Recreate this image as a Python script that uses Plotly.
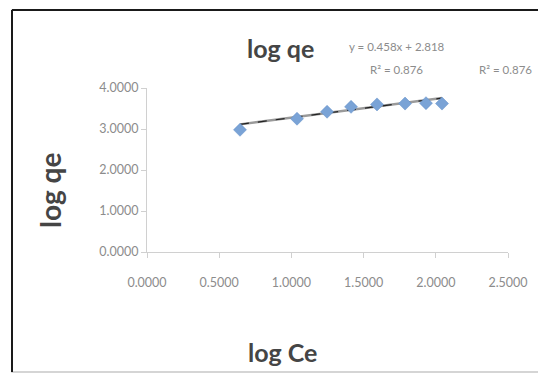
import plotly.graph_objects as go
import numpy as np

# ---- data ----
log_ce = [0.644, 1.039, 1.247, 1.413, 1.593, 1.787, 1.932, 2.043]
log_qe = [2.98, 3.25, 3.42, 3.54, 3.60, 3.62, 3.63, 3.62]
slope = 0.458
intercept = 2.818
r_squared = 0.876
x_ticks = [0.0, 0.5, 1.0, 1.5, 2.0, 2.5]
y_ticks = [0.0, 1.0, 2.0, 3.0, 4.0]

# page body has an 8px margin; figure drawn at (8, 8)
OFF = 8
W, H = 538, 368
ML, MR, MT, MB = 139, 38, 80, 124
PW, PH = W - ML - MR, H - MT - MB


def px(sx):
    return (sx - OFF - ML) / PW


def py(sy):
    return (H - MB - (sy - OFF)) / PH


fit_x = np.array([min(log_ce), max(log_ce)])
fit_y = slope * fit_x + intercept

fig = go.Figure()
fig.add_trace(go.Scatter(x=fit_x, y=fit_y, mode="lines",
                         line=dict(color="#9a9a9a", width=2.5),
                         showlegend=False, hoverinfo="skip"))
fig.add_trace(go.Scatter(x=fit_x, y=fit_y, mode="lines",
                         line=dict(color="#222222", width=1.2, dash="dash"),
                         showlegend=False, hoverinfo="skip"))
fig.add_trace(go.Scatter(x=log_ce, y=log_qe, mode="markers",
                         marker=dict(symbol="diamond", size=10, color="#7aa3d6",
                                     line=dict(color="#618dc6", width=0.5)),
                         showlegend=False))

tick_font = dict(family="Lato, Carlito, sans-serif", size=12.5, color="#8c8c8c")
axis_common = dict(showgrid=False, zeroline=False, showline=True,
                   linecolor="#d0d0d0", linewidth=1, ticks="outside",
                   ticklen=5, tickcolor="#d0d0d0", tickfont=tick_font,
                   fixedrange=True)
fig.update_xaxes(range=[0, 2.5], tickvals=x_ticks,
                 ticktext=[f"{v:.4f}" for v in x_ticks],
                 ticklabelstandoff=14, **axis_common)
fig.update_yaxes(range=[0, 4], tickvals=y_ticks,
                 ticktext=[f"{v:.4f}" for v in y_ticks], **axis_common)

fam = "Lato, Carlito, sans-serif"
small_font = dict(family=fam, size=11.5, color="#8c8c8c")
annotations = [
    dict(x=px(280), y=py(48), text="<b>log qe</b>",
         font=dict(family=fam, size=25, color="#454545")),
    dict(x=px(282), y=py(352), text="<b>log Ce</b>",
         font=dict(family=fam, size=25, color="#454545")),
    dict(x=px(50), y=py(191), text="<b>log qe</b>",
         font=dict(family=fam, size=28, color="#454545"), textangle=-90),
    dict(x=px(397), y=py(46), text=f"y = {slope}x + {intercept}", font=small_font),
    dict(x=px(396), y=py(70), text=f"R² = {r_squared}", font=small_font),
    dict(x=px(505), y=py(70), text=f"R² = {r_squared}", font=small_font),
]
for a in annotations:
    a.update(xref="paper", yref="paper", showarrow=False,
             xanchor="center", yanchor="middle")

shapes = [
    dict(type="rect", xref="paper", yref="paper",
         x0=px(12), x1=px(543), y0=py(372), y1=py(10),
         line=dict(color="#c8c8c8", width=1.5), layer="below"),
    dict(type="line", xref="paper", yref="paper",
         x0=px(12), x1=px(12), y0=py(372), y1=py(10),
         line=dict(color="#1a1a1a", width=2)),
    dict(type="line", xref="paper", yref="paper",
         x0=px(12), x1=px(543), y0=py(10), y1=py(10),
         line=dict(color="#1a1a1a", width=2)),
]

fig.update_layout(width=W, height=H,
                  margin=dict(l=ML, r=MR, t=MT, b=MB),
                  paper_bgcolor="white", plot_bgcolor="white",
                  annotations=annotations, shapes=shapes,
                  showlegend=False)

fig.write_html("out.html")
